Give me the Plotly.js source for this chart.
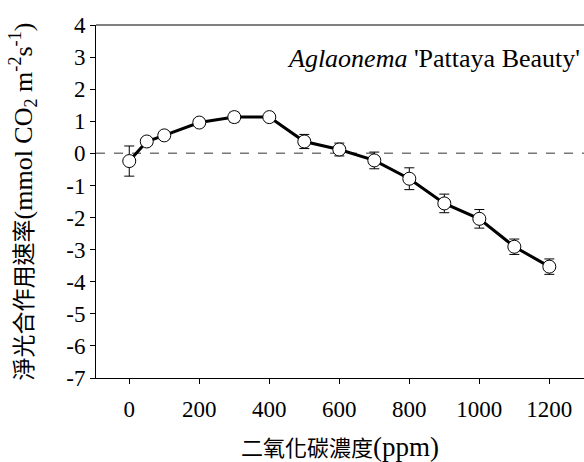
<!DOCTYPE html>
<html>
<head>
<meta charset="utf-8">
<script src="https://cdn.plot.ly/plotly-3.0.1.min.js"></script>
<style>html,body{margin:0;padding:0;background:#fff;}#chart{width:584px;height:462px;}</style>
</head>
<body>
<div id="chart"></div>
<script>
const co2ppm = [0, 50, 100, 200, 300, 400, 500, 600, 700, 800, 900, 1000, 1100, 1200];
const netPhoto = [-0.24, 0.37, 0.56, 0.96, 1.13, 1.13, 0.37, 0.12, -0.22, -0.79, -1.56, -2.04, -2.91, -3.53];
const errSE = [0.47, 0.08, 0.08, 0.06, 0.15, 0.12, 0.22, 0.2, 0.26, 0.34, 0.29, 0.29, 0.24, 0.24];
const xTicks = [0, 200, 400, 600, 800, 1000, 1200];
const yTicks = [4, 3, 2, 1, 0, -1, -2, -3, -4, -5, -6, -7];

const serif = "Liberation Serif";
const cjk = "Liberation Serif, Noto Sans CJK TC";

const trace = {
  x: co2ppm, y: netPhoto, type: 'scatter', mode: 'lines+markers',
  line: {color: '#000', width: 3},
  marker: {size: 13, color: '#fff', line: {color: '#000', width: 1}},
  error_y: {type: 'data', array: errSE, visible: true, color: '#000', thickness: 1, width: 5},
  showlegend: false, cliponaxis: false
};

const layout = {
  width: 584, height: 462,
  margin: {l: 96, r: 0, t: 25, b: 84},
  paper_bgcolor: '#fff', plot_bgcolor: '#fff',
  font: {family: serif, size: 20, color: '#000'},
  xaxis: {
    range: [-95, 1299], tickvals: xTicks, ticktext: xTicks.map(String),
    showgrid: false, zeroline: false, showline: true, linecolor: '#000', linewidth: 1,
    mirror: false, ticks: 'outside', ticklen: 5, tickcolor: '#000', ticklabelstandoff: 5,
    tickfont: {family: serif, size: 23},
    title: {text: '二氧化碳濃度<span style="font-size:27px">(ppm)</span>', font: {family: cjk, size: 22}, standoff: 33}
  },
  yaxis: {
    range: [-7, 4], tickvals: yTicks, ticktext: yTicks.map(String),
    showgrid: false, zeroline: false, showline: true, linecolor: '#000', linewidth: 1,
    ticks: 'outside', ticklen: 5, tickcolor: '#000',
    tickfont: {family: serif, size: 23},
    title: {text: '淨光合作用速率<span style="font-size:26px">(mmol CO<sub>2</sub> m<sup>-2</sup>s<sup>-1</sup>)</span>', font: {family: cjk, size: 23}, standoff: 27}
  },
  shapes: [
    {type: 'line', xref: 'paper', x0: 0, x1: 1, yref: 'y', y0: 0, y1: 0, line: {color: '#777', width: 1.5, dash: 'dash'}, layer: 'below'},
    {type: 'line', xref: 'paper', x0: 0, x1: 1, yref: 'paper', y0: 1, y1: 1, line: {color: '#000', width: 1}}
  ],
  annotations: [
    {xref: 'paper', yref: 'paper', x: 0.995, y: 0.905, xanchor: 'right', yanchor: 'middle', showarrow: false,
     text: "<i>Aglaonema</i> 'Pattaya Beauty'", font: {family: serif, size: 26}}
  ]
};

Plotly.newPlot('chart', [trace], layout, {displayModeBar: false, staticPlot: true});
</script>
</body>
</html>
